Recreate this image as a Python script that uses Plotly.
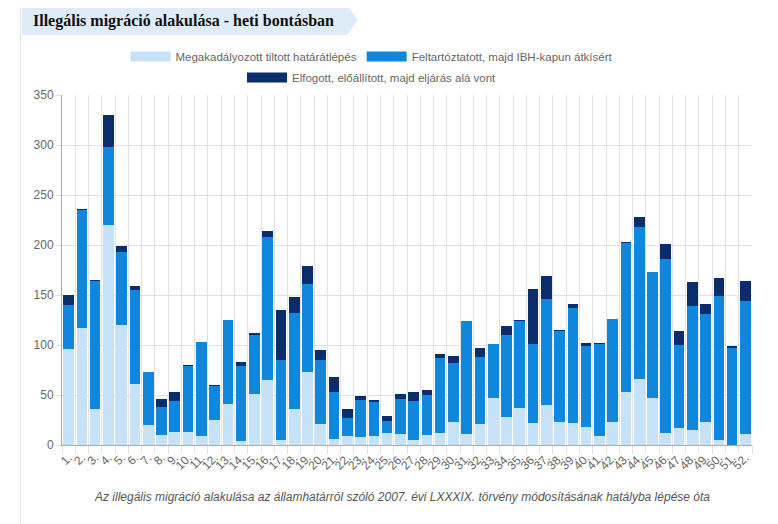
import plotly.graph_objects as go

# heti adatok (1-52. hét)
weeks = ["1.", "2.", "3.", "4.", "5.", "6.", "7.", "8.", "9.", "10.",
         "11.", "12.", "13.", "14.", "15.", "16.", "17.", "18.", "19.", "20.",
         "21.", "22.", "23.", "24.", "25.", "26.", "27.", "28.", "29.", "30.",
         "31.", "32.", "33.", "34.", "35.", "36.", "37.", "38.", "39.", "40.",
         "41.", "42.", "43.", "44.", "45.", "46.", "47.", "48.", "49.", "50.",
         "51.", "52."]

prevented = [96, 117, 36, 220, 120, 61, 20, 10, 13, 13,
             9, 25, 41, 4, 51, 65, 5, 36, 73, 21,
             6, 9, 8, 9, 12, 11, 5, 10, 12, 23,
             11, 21, 47, 28, 37, 22, 40, 23, 22, 18,
             9, 23, 53, 66, 47, 12, 17, 15, 23, 5,
             0, 11]

escorted = [44, 118, 128, 78, 73, 94, 53, 28, 31, 66,
            94, 34, 84, 75, 59, 143, 80, 96, 88, 64,
            47, 18, 37, 34, 12, 35, 39, 40, 75, 59,
            113, 67, 54, 82, 87, 79, 106, 91, 115, 81,
            92, 103, 149, 152, 126, 174, 83, 124, 108, 144,
            97, 133]

arrested = [10, 1, 1, 32, 6, 4, 0, 8, 9, 1,
            0, 1, 0, 4, 2, 6, 50, 16, 18, 10,
            15, 9, 4, 2, 5, 5, 9, 5, 4, 7,
            0, 9, 0, 9, 1, 55, 23, 1, 4, 3,
            1, 0, 1, 10, 0, 15, 14, 24, 10, 18,
            2, 20]

names = ["Megakadályozott tiltott határátlépés",
         "Feltartóztatott, majd IBH-kapun átkísért",
         "Elfogott, előállított, majd eljárás alá vont"]
colors = ["#c6e2f9", "#0f87dc", "#0b2d6b"]
legend_rows = ["legend", "legend", "legend2"]

# az oldal body 8px margót kap, ezért a figura ennyivel kisebb
OFF = 8
W, H = 778 - OFF, 524 - OFF
L, R, T, B = 62 - OFF, 26, 95 - OFF, 79


def px_x(x):
    # képernyő pixel -> paper (vízszintes)
    return (x - OFF - L) / (W - L - R)


def px_y(y):
    # képernyő pixel -> paper (függőleges)
    return (H - B - (y - OFF)) / (H - T - B)


fig = go.Figure()
for name, vals, col in zip(names, [prevented, escorted, arrested], colors):
    fig.add_trace(go.Bar(x=weeks, y=vals, name=name, marker_color=col,
                         marker_line_width=0, showlegend=False))
for name, col, lg in zip(names, colors, legend_rows):
    # széles jelmagyarázat-minta
    fig.add_trace(go.Scatter(x=[None], y=[None], mode="lines", name=name,
                             line=dict(color=col, width=10), legend=lg))

grid = "#e2e2e2"
leg_font = dict(size=11.5, color="#666")

fig.update_layout(
    width=W, height=H,
    margin=dict(l=L, r=R, t=T, b=B, autoexpand=False),
    barmode="stack", bargap=0.2,
    plot_bgcolor="white", paper_bgcolor="white",
    font=dict(family="Liberation Sans, Arial, sans-serif", size=12, color="#666"),
    title=dict(text="<b>Illegális migráció alakulása - heti bontásban</b>",
               font=dict(family="Liberation Serif, serif", size=16, color="#111"),
               xref="container", yref="container",
               x=(33 - OFF) / W, xanchor="left",
               y=1 - (20 - OFF) / H, yanchor="middle"),
    legend=dict(orientation="h", x=px_x(372), xanchor="center",
                y=px_y(42), yanchor="top", itemwidth=40,
                traceorder="normal", font=leg_font),
    legend2=dict(orientation="h", x=px_x(372), xanchor="center",
                 y=px_y(63), yanchor="top", itemwidth=40, font=leg_font),
    xaxis=dict(type="category", tickson="boundaries", tickangle=-45, dtick=1,
               showgrid=True, gridcolor=grid, ticks="outside", ticklen=8,
               tickcolor=grid, showline=True, linecolor="#aaa",
               automargin=False),
    yaxis=dict(range=[0, 350], dtick=50, showgrid=True, gridcolor=grid,
               ticks="outside", ticklen=5, tickcolor=grid,
               showline=True, linecolor="#aaa", zeroline=False,
               automargin=False),
    shapes=[
        # cím szalag
        dict(type="path", xref="paper", yref="paper", layer="below",
             path=f"M{px_x(22)},{px_y(5)} L{px_x(347)},{px_y(5)} "
                  f"L{px_x(358)},{px_y(20)} L{px_x(347)},{px_y(35)} "
                  f"L{px_x(22)},{px_y(35)} Z",
             fillcolor="#deecfa", line=dict(width=0)),
        # keret
        dict(type="line", xref="paper", yref="paper",
             x0=px_x(20.5), x1=px_x(20.5), y0=px_y(OFF), y1=px_y(524),
             line=dict(color="#e3e3e3", width=1)),
        dict(type="line", xref="paper", yref="paper",
             x0=px_x(771.5), x1=px_x(771.5), y0=px_y(OFF), y1=px_y(524),
             line=dict(color="#e3e3e3", width=1)),
    ],
    annotations=[
        dict(text="<i>Az illegális migráció alakulása az államhatárról szóló 2007. "
                  "évi LXXXIX. törvény módosításának hatályba lépése óta</i>",
             xref="paper", yref="paper", x=px_x(402), y=px_y(497),
             xanchor="center", yanchor="middle", showarrow=False,
             font=dict(size=12, color="#555")),
    ],
)

fig.write_html("out.html")
